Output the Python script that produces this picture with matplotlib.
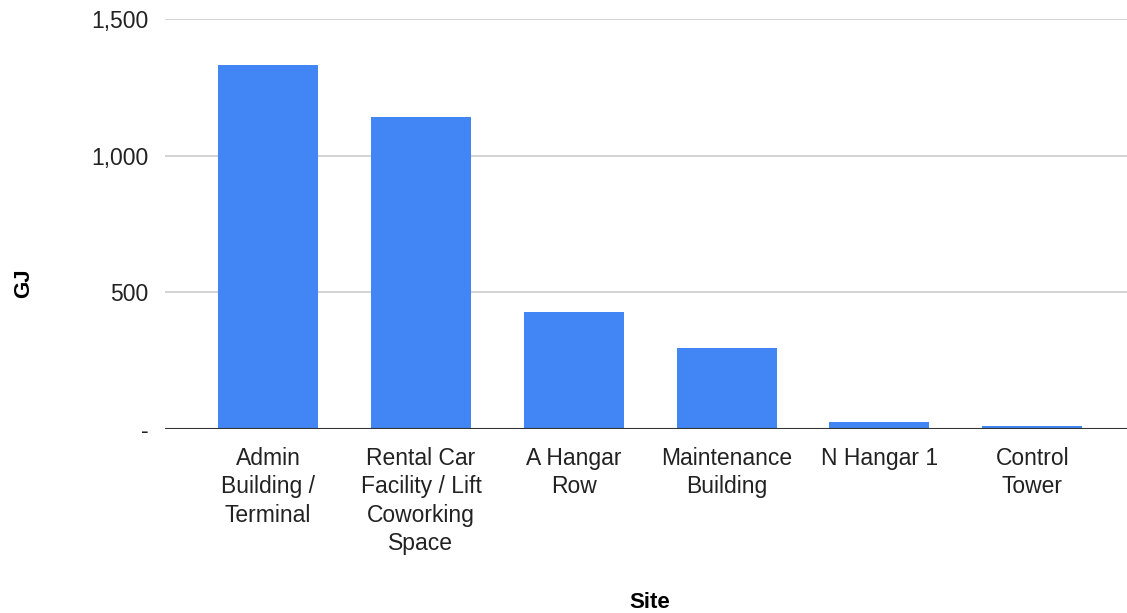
import matplotlib.pyplot as plt
from matplotlib.ticker import FuncFormatter

sites = ['Admin\nBuilding /\nTerminal', 'Rental Car\nFacility / Lift\nCoworking\nSpace',
         'A Hangar\nRow', 'Maintenance\nBuilding', 'N Hangar 1', 'Control\nTower']
gj = [1332, 1142, 427, 296, 25, 12]
yticks = [0, 500, 1000, 1500]

plt.rcParams['font.family'] = ['Liberation Sans', 'DejaVu Sans']

fig = plt.figure(figsize=(11.27, 6.13), dpi=100)
ax = fig.add_axes([165 / 1127, (613 - 429) / 613, (1127 - 165) / 1127, 410 / 613])

ax.bar(range(len(sites)), gj, width=0.655, color='#4285F4', zorder=3)

ax.set_ylim(0, 1500)
ax.set_xlim(-0.675, 5.62)
ax.set_yticks(yticks)
ax.yaxis.set_major_formatter(FuncFormatter(lambda v, p: '-' if v == 0 else f'{int(v):,}'))
ax.grid(axis='y', color='#cccccc', linewidth=1.2, zorder=0)
ax.axhline(0, color='#333333', linewidth=1.5, zorder=4)

ax.set_xticks(range(len(sites)))
ax.set_xticklabels(sites, fontsize=16.5, color='#222222', linespacing=1.3, va='top')
ax.tick_params(axis='y', labelsize=16.5, labelcolor='#222222', length=0, pad=12)
ax.tick_params(axis='x', length=0, pad=13)

for s in ax.spines.values():
    s.set_visible(False)

fig.text(24 / 1127, 1 - 283 / 613, 'GJ', rotation=90, fontsize=16, fontweight='bold',
         ha='center', va='center')
fig.text(650 / 1127, 1 - 603 / 613, 'Site', fontsize=16, fontweight='bold',
         ha='center', va='center')

fig.savefig('out.png', dpi=100)
